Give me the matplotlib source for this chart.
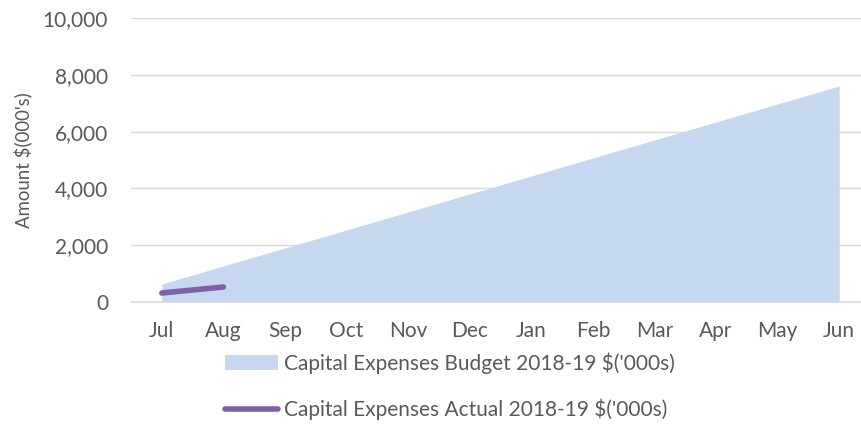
import matplotlib.pyplot as plt
import numpy as np

months = ['Jul', 'Aug', 'Sep', 'Oct', 'Nov', 'Dec', 'Jan', 'Feb', 'Mar', 'Apr', 'May', 'Jun']
budget = [634, 1268, 1902, 2536, 3170, 3804, 4437, 5071, 5705, 6339, 6973, 7606]
actual = [317, 528]

plt.rcParams['font.family'] = ['Lato', 'DejaVu Sans']
grey = '#595959'

fig = plt.figure(figsize=(8.61, 4.24), dpi=100)
ax = fig.add_axes([131 / 861, 1 - 302 / 424, (870 - 131) / 861, (302 - 18) / 424])

x = np.arange(len(months))
ax.fill_between(x, budget, 0, color='#C6D8F0', linewidth=0,
                label="Capital Expenses Budget 2018-19 $('000s)")
ax.plot(x[:len(actual)], actual, color='#7F60A8', linewidth=4, solid_capstyle='round',
        label="Capital Expenses Actual 2018-19 $('000s)")

ax.set_xlim(-0.5, 11.5)
ax.set_ylim(0, 10000)
ax.set_yticks(range(0, 10001, 2000))
ax.set_yticklabels(['{:,}'.format(v) for v in range(0, 10001, 2000)])
ax.set_xticks(x)
ax.set_xticklabels(months)
ax.grid(axis='y', color='#D9D9D9', linewidth=1)
ax.set_axisbelow(True)
for s in ['top', 'right', 'left']:
    ax.spines[s].set_visible(False)
ax.spines['bottom'].set_color('#D9D9D9')
ax.spines['bottom'].set_linewidth(1.2)
ax.tick_params(length=0, labelsize=15, colors=grey)
ax.tick_params(axis='x', pad=14)
ax.tick_params(axis='y', pad=16.5)
ax.set_ylabel("Amount $(000's)", fontsize=13.4, color=grey)
ax.yaxis.set_label_coords((32 - 131) / 739, 0.5)

leg = fig.legend(loc='upper left', bbox_to_anchor=(225 / 861, 1 - 352 / 424), frameon=False,
                 fontsize=15, labelcolor=grey, handlelength=2.55, handletextpad=0.29,
                 labelspacing=1.2, borderpad=0, borderaxespad=0)

fig.savefig('out.png', dpi=100)
